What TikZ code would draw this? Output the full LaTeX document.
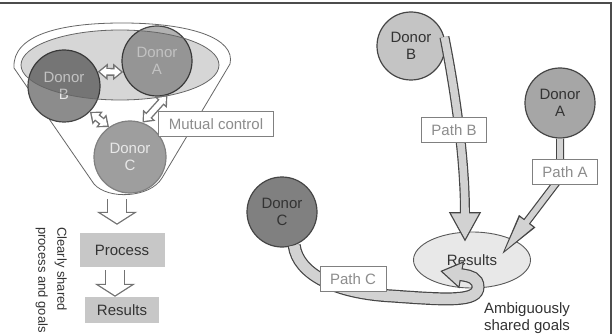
\documentclass[tikz,border=0pt]{standalone}
\usepackage{fontspec}
\setmainfont{Liberation Sans}
\usetikzlibrary{shapes.geometric, arrows.meta, positioning}

\definecolor{edge}{HTML}{454545}
\definecolor{band}{HTML}{D2D2D2}
\definecolor{tagtext}{HTML}{8C8C8C}
\definecolor{softtext}{HTML}{E8E8E8}

\tikzstyle{frame} = [line width=1.5pt, draw=black!70]
\tikzstyle{funnel} = [line width=0.8pt, draw=black!60, fill=white]
\tikzstyle{donor} = [circle, minimum size=70pt, inner sep=0pt, align=center, draw=edge, line width=1.2pt]
\tikzstyle{tag} = [rectangle, draw=black!50, line width=0.8pt, fill=white, text=tagtext, minimum height=25pt, inner xsep=10pt]
\tikzstyle{stepbox} = [rectangle, fill=black!22, text=black!80, minimum width=85pt, minimum height=34pt]
\tikzstyle{twoway} = [line width=8pt, draw=black!55, {Triangle[width=16pt,length=10pt]}-{Triangle[width=16pt,length=10pt]},
  postaction={draw=white, line width=5.2pt, shorten <=2.2pt, shorten >=2.2pt, {Triangle[width=10.2pt,length=6.4pt]}-{Triangle[width=10.2pt,length=6.4pt]}}]
\tikzstyle{downarrow} = [line width=20pt, draw=black!55, -{Triangle[width=40pt,length=13pt]},
  postaction={draw=white, line width=17.4pt, shorten >=1.55pt, -{Triangle[width=31.2pt,length=10.15pt]}}]
\tikzstyle{pathA} = [line width=8pt, draw=edge, -{Triangle[width=18pt,length=45pt]},
  postaction={draw=band, line width=5.6pt, shorten >=6pt, -{Triangle[width=15pt,length=37.7pt]}}]
\tikzstyle{pathB} = [line width=10pt, draw=edge, -{Triangle[width=30pt,length=30pt]},
  postaction={draw=band, line width=7.6pt, shorten >=2.7pt, -{Triangle[width=26pt,length=26pt]}}]
\tikzstyle{pathC} = [line width=13pt, draw=edge, -{Triangle[width=26pt,length=22pt]},
  postaction={draw=band, line width=10.6pt, shorten >=2.4pt, -{Triangle[width=21.7pt,length=18.4pt]}}]

\begin{document}
\begin{tikzpicture}[x=1pt, y=-1pt, font=\fontsize{15}{17}\selectfont]
    \useasboundingbox (0,0) rectangle (613,334);
    \fill[white] (0,0) rectangle (613,334);
    \draw[frame] (0,3) -- (611,3) -- (611,334);

    % left: shared funnel
    \draw[funnel] (14,68) .. controls (12,35) and (60,23) .. (122,23) .. controls (190,23) and (236,38) .. (230,64) -- (162,178) .. controls (150,198) and (108,200) .. (94,184) -- cycle;
    \node (dA) [donor, fill=black!30, text=softtext] at (157,61) {Donor\\A};
    \node (dB) [donor, fill=black!45, text=softtext, minimum size=72pt] at (64,86) {Donor\\B};
    \draw[line width=0.8pt, draw=black!60, fill=black, fill opacity=0.16] (120,65) ellipse [x radius=99, y radius=35];
    \node (dC) [donor, fill=black!38, text=softtext, draw=black!50, minimum size=72pt] at (130,157) {Donor\\C};

    \draw[twoway] (dB.23) -- (dA.198);
    \draw[twoway] (dB.-45) -- (dC.125);
    \draw[twoway] (dA.-73) -- (dC.70);
    \node (mutual) [tag] at (216,124) {Mutual control};

    \coordinate (fbottom) at (117,199);
    \node (process) [stepbox] at (122,250) {Process};
    \node (result) [stepbox, minimum width=74pt, minimum height=26pt] at (122,310) {Results};
    \draw[downarrow] (fbottom) -- ([xshift=-5pt, yshift=8pt]process.north);
    \draw[downarrow] ([xshift=-7pt, yshift=-3pt]process.south) -- ([xshift=-7pt]result.north);
    \node (clear) [rotate=-90, anchor=north west, align=left, inner sep=0pt, text=black!80, font=\fontsize{13}{19}\selectfont] at (67,227) {Clearly shared\\process and goals};

    % right: separate paths
    \node (rB) [donor, fill=black!23, text=black!80, minimum size=68pt] at (411,46) {Donor\\B};
    \node (rA) [donor, fill=black!35, text=black!80] at (560,103) {Donor\\A};
    \node (rC) [donor, fill=black!50, text=black!80] at (282,212) {Donor\\C};
    \node (res) [ellipse, draw=black!65, line width=0.9pt, fill=black!9, text=black!80, minimum width=117pt, minimum height=56pt] at (472,260) {Results};

    \coordinate (tipA) at (500,257);
    \coordinate (tipB) at (465,242);
    \coordinate (tipC) at (440,271);
    \draw[pathA] (rA.south) -- (560,178) -- (tipA);
    \draw[pathB] (rB.15) .. controls (452,75) and (465,150) .. (tipB);
    \draw[pathC] (rC.-70) .. controls (298,274) and (335,293) .. (392,296) .. controls (448,300) and (478,302) .. (478,287) .. controls (478,278) and (470,276) .. (463,275) -- (tipC);

    \node (tagA) [tag] at (565,172) {Path A};
    \node (tagB) [tag] at (454,130) {Path B};
    \node (tagC) [tag] at (353,279) {Path C};
    \node (amb) [align=center, text=black!80] at (527,318) {Ambiguously\\shared goals};
\end{tikzpicture}
\end{document}
